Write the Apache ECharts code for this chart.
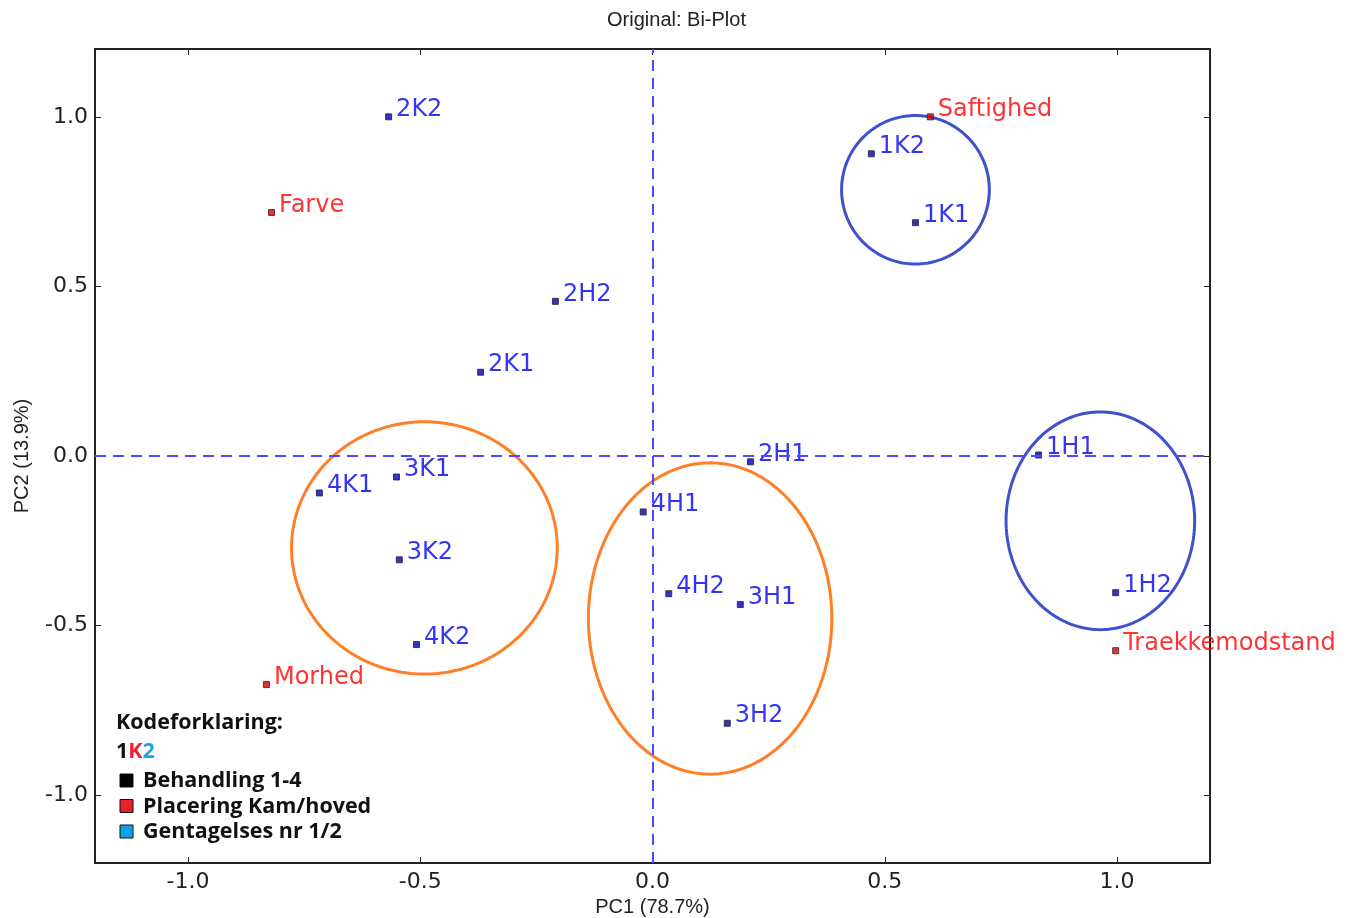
<!DOCTYPE html>
<html>
<head>
<meta charset="utf-8">
<script src="https://cdn.jsdelivr.net/npm/echarts@6/dist/echarts.min.js"></script>
<style>html,body{margin:0;padding:0;background:#fff}#c{width:1353px;height:918px}</style>
</head>
<body>
<div id="c"></div>
<script>
// Observations (blue labels)
const obsNames = ['2K2','1K2','1K1','2H2','2K1','2H1','1H1','3K1','4K1','4H1','3K2','4H2','3H1','1H2','4K2','3H2'];
const obsX = [-0.568, 0.471, 0.566, -0.209, -0.370, 0.211, 0.831, -0.551, -0.717, -0.020, -0.545, 0.035, 0.189, 0.997, -0.508, 0.161];
const obsY = [1.000, 0.891, 0.688, 0.456, 0.247, -0.017, 0.003, -0.062, -0.109, -0.165, -0.306, -0.406, -0.438, -0.403, -0.556, -0.788];
// Variables (red labels)
const varNames = ['Saftighed','Farve','Morhed','Traekkemodstand'];
const varX = [0.598, -0.820, -0.831, 0.997];
const varY = [1.000, 0.718, -0.674, -0.574];
// Ellipses: center x, center y, radius x, radius y (data units)
const ellCX = [0.566, 0.964, -0.491, 0.124];
const ellCY = [0.785, -0.191, -0.271, -0.479];
const ellRX = [0.159, 0.203, 0.286, 0.262];
const ellRY = [0.219, 0.321, 0.372, 0.459];
const ellColor = ['#4150cc', '#4150cc', '#ff7f27', '#ff7f27'];
// Axis ticks
const tickVals = [-1.0, -0.5, 0.0, 0.5, 1.0];
// Legend text
const legendTitle = 'Kodeforklaring:';
const legendItems = ['Behandling 1-4', 'Placering Kam/hoved', 'Gentagelses nr 1/2'];
const legendColors = ['#000000', '#e8202a', '#12a0e6'];

const chart = echarts.init(document.getElementById('c'), null, {renderer: 'canvas'});

const tickLabel = {fontFamily: 'DejaVu Sans', fontSize: 22, color: '#222'};
function axisCommon(extra) {
  return Object.assign({
    type: 'value', min: -1.2, max: 1.2,
    splitLine: {show: false},
    axisLine: {show: true, onZero: false, lineStyle: {color: '#222', width: 2}},
    axisTick: {show: true, inside: true, length: 6, customValues: tickVals, lineStyle: {color: '#222', width: 1}},
  }, extra);
}

const ellData = ellCX.map((v, i) => [v, ellCY[i], ellRX[i], ellRY[i], i]);

const legendFont = {fontFamily: 'Open Sans', fontWeight: 'bold', fontSize: 21.5};
const legendGraphics = [
  {type: 'text', x: 116, y: 723, z: 10, style: Object.assign({text: legendTitle, fill: '#111', verticalAlign: 'middle'}, legendFont)},
  {type: 'text', x: 116, y: 752, z: 10, style: {
    text: '{a|1}{b|K}{c|2}', verticalAlign: 'middle',
    rich: {
      a: Object.assign({fill: '#111'}, legendFont),
      b: Object.assign({fill: '#ee2233'}, legendFont),
      c: Object.assign({fill: '#1aa3e8'}, legendFont)
    }
  }}
];
legendItems.forEach((t, i) => {
  const cy = 781 + i * 25.5;
  legendGraphics.push({type: 'rect', x: 120, y: cy - 7, z: 10, shape: {width: 13, height: 13},
    style: {fill: legendColors[i], stroke: '#111', lineWidth: 1}});
  legendGraphics.push({type: 'text', x: 143, y: cy, z: 10,
    style: Object.assign({text: t, fill: '#111', verticalAlign: 'middle'}, legendFont)});
});

chart.setOption({
  animation: false,
  title: {
    text: 'Original: Bi-Plot', left: 'center', top: 5,
    textStyle: {fontFamily: 'Liberation Sans', fontSize: 20, fontWeight: 'normal', color: '#222'}
  },
  grid: {left: 95, right: 143, top: 49, bottom: 55, outerBoundsMode: 'none', containLabel: false},
  xAxis: [
    axisCommon({
      position: 'bottom',
      name: 'PC1 (78.7%)', nameLocation: 'middle', nameGap: 33,
      nameTextStyle: {fontFamily: 'Liberation Sans', fontSize: 20, color: '#222'},
      axisLabel: Object.assign({customValues: tickVals, margin: 8, formatter: v => v.toFixed(1)}, tickLabel)
    }),
    axisCommon({position: 'top', axisLabel: {show: false}})
  ],
  yAxis: [
    axisCommon({
      position: 'left',
      name: 'PC2 (13.9%)', nameLocation: 'middle', nameGap: 63,
      nameTextStyle: {fontFamily: 'Liberation Sans', fontSize: 20, color: '#222'},
      axisLabel: Object.assign({customValues: tickVals, margin: 7, formatter: v => v.toFixed(1)}, tickLabel)
    }),
    axisCommon({position: 'right', axisLabel: {show: false}})
  ],
  series: [
    {
      type: 'custom',
      silent: true,
      xAxisIndex: 0, yAxisIndex: 0,
      data: ellData,
      renderItem: function (params, api) {
        const cx = api.value(0), cy = api.value(1), rx = api.value(2), ry = api.value(3);
        const pts = [];
        for (let k = 0; k <= 180; k++) {
          const t = k / 180 * Math.PI * 2;
          pts.push(api.coord([cx + rx * Math.cos(t), cy + ry * Math.sin(t)]));
        }
        return {
          type: 'polyline',
          shape: {points: pts},
          style: {stroke: ellColor[api.value(4)], lineWidth: 3, fill: null}
        };
      },
      z: 3
    },
    {
      type: 'scatter',
      symbol: 'rect', symbolSize: 6,
      itemStyle: {color: '#0000bb', borderColor: '#222', borderWidth: 1},
      data: obsNames.map((n, i) => ({name: n, value: [obsX[i], obsY[i]]})),
      label: {
        show: true, position: 'right', distance: 4, offset: [0, -7],
        formatter: p => p.name,
        fontFamily: 'DejaVu Sans', fontSize: 24, color: '#0000f0'
      },
      markLine: {
        silent: true, symbol: 'none', label: {show: false},
        lineStyle: {color: '#4a4aff', type: [11, 7], width: 2},
        data: [{xAxis: 0}, {yAxis: 0}]
      },
      z: 4
    },
    {
      type: 'scatter',
      symbol: 'rect', symbolSize: 6,
      itemStyle: {color: '#dd0000', borderColor: '#222', borderWidth: 1},
      data: varNames.map((n, i) => ({name: n, value: [varX[i], varY[i]]})),
      label: {
        show: true, position: 'right', distance: 4, offset: [0, -7],
        formatter: p => p.name,
        fontFamily: 'DejaVu Sans', fontSize: 24, color: '#ff0000'
      },
      z: 4
    }
  ],
  graphic: legendGraphics
});
</script>
</body>
</html>
